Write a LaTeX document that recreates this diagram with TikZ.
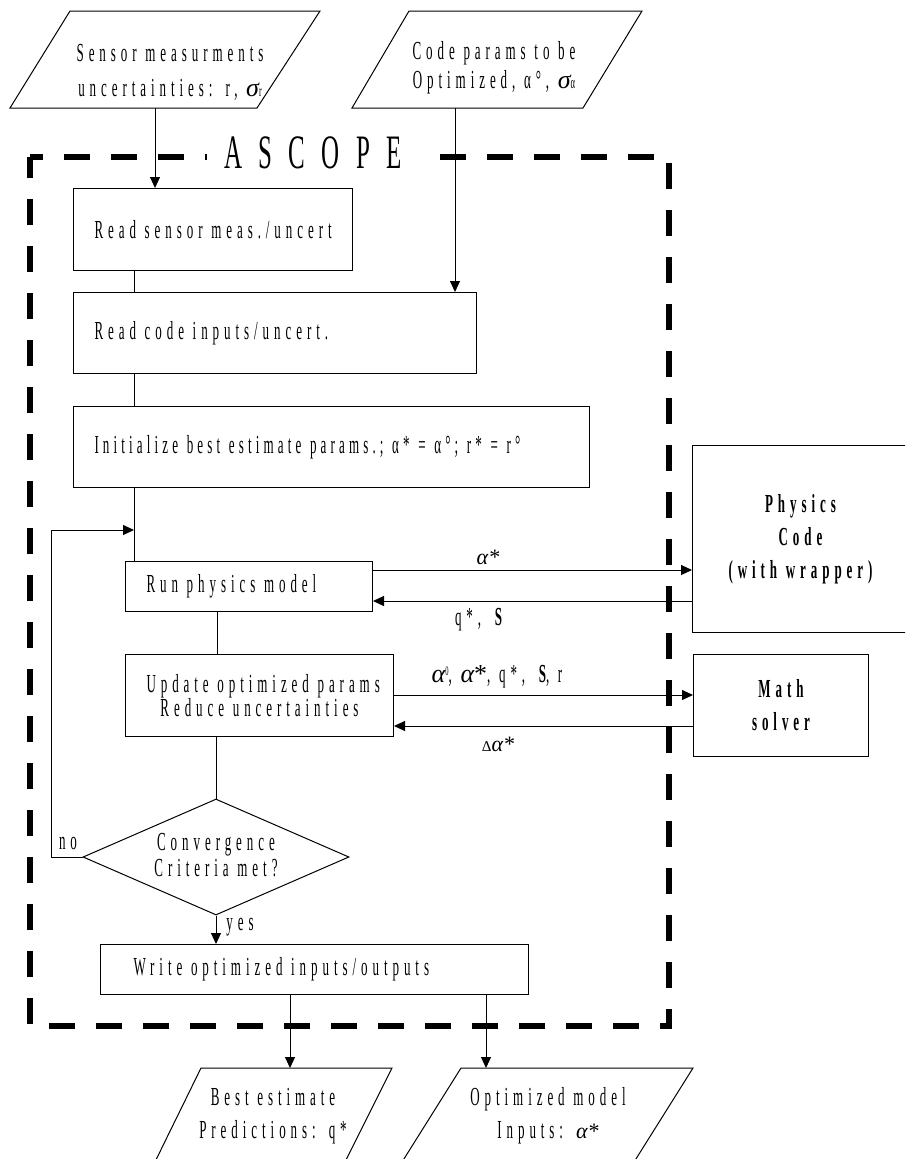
\documentclass[tikz,border=0pt]{standalone}
\usepackage{fontspec}
\setmainfont{Liberation Serif}
\newfontfamily\cf{Liberation Serif}[FakeStretch=0.5,LetterSpace=19]
\newfontfamily\cft{Liberation Serif}[FakeStretch=0.5,LetterSpace=16]
\newfontfamily\af{Liberation Serif}[FakeStretch=0.52,LetterSpace=34]
\newfontfamily\gf{Liberation Serif}
\newcommand\myal{{\gf\itshape α}}
\newcommand\cfsp{\spaceskip=5pt\xspaceskip=5pt\relax}
\usetikzlibrary{arrows.meta,shapes.geometric}
\begin{document}
\begin{tikzpicture}[x=1pt,y=-1pt,
  every node/.style={font=\cf\fontsize{26}{22}\selectfont\cfsp, inner sep=0pt},
  ln/.style={line width=1pt},
  arr/.style={line width=1pt,-{Triangle[length=11pt,width=10pt]}},
  box/.style={draw,line width=1pt,anchor=north west,inner xsep=21pt,inner ysep=0pt,align=left},
  bbox/.style={draw,line width=1pt,anchor=north west,align=center,font=\cf\bfseries\fontsize{26}{33}\selectfont\cfsp},
  txt/.style={align=center,text width=#1},
  lbl/.style={font=\gf\fontsize{22}{22}\selectfont},
  frame/.style={line width=6pt,dash pattern=on 26pt off 21pt,dash phase=13pt}]
\useasboundingbox (0,0) rectangle (905,1159);
\clip (0,0) rectangle (905,1159);
\fill[white] (0,0) rectangle (905,1159);

% ASCOPE frame
\draw[frame] (30,157) -- (669,157) -- (669,1026) -- (30,1026) -- cycle;
\node[fill=white,inner xsep=17pt,inner ysep=2pt,font=\af\fontsize{48}{48}\selectfont] (ascope) at (313,153) {ASCOPE\hspace{14pt}};

% input parallelograms
\draw[ln] (70,11) -- (320,11) -- (257,108) -- (10,108) -- cycle;
\node[txt=240pt,font=\cf\fontsize{26}{35}\selectfont\cfsp] (sens) at (170,72) {Sensor measurments\\uncertainties: r, {\gf\itshape σ}{\fontsize{16}{16}\selectfont r}};
\draw[ln] (409,11) -- (642,11) -- (583,108) -- (352,108) -- cycle;
\node[txt=240pt,font=\cf\fontsize{26}{29}\selectfont\cfsp] (code) at (494,68) {Code params to be\\Optimized, α°, {\gf\itshape σ}{\fontsize{17}{17}\selectfont α}};
\coordinate (sensOut) at (155,108);
\coordinate (codeOut) at (455,108);

% main boxes
\node[box,text width=237pt,minimum height=82pt] (b1) at (73,188) {\mbox{Read sensor meas./uncert}};
\node[box,text width=361pt,minimum height=81pt] (b2) at (73,292) {\mbox{Read code inputs/uncert.}};
\node[box,text width=474pt,minimum height=81pt,font=\cft\fontsize{26}{22}\selectfont\cfsp] (b3) at (73,406) {\mbox{Initialize best estimate params.; α* = α°; r* = r°}};
\node[box,text width=205pt,minimum height=50pt] (b4) at (125,561) {\mbox{Run physics model}};
\node[box,align=center,text width=226pt,minimum height=82pt] (b5) at (125,654) {Update optimized params\\Reduce uncertainties};
\node[draw,diamond,line width=1pt,minimum width=266pt,minimum height=116pt] (conv) at (216,857) {};
\node[txt=180pt,font=\cf\fontsize{26}{26}\selectfont\cfsp] (convt) at (216,855) {Convergence\\Criteria met?};
\node[box,inner xsep=33pt,text width=362pt,minimum height=50pt] (wr) at (100,944) {\mbox{Write optimized inputs/outputs}};

% external boxes
\node[bbox,text width=205pt,minimum width=216pt,minimum height=187pt] (phys) at (692,445) {Physics\\Code\\(with wrapper)};
\node[bbox,text width=165pt,minimum width=175pt,minimum height=102pt] (math) at (693,654) {Math\\solver};

% output parallelograms
\draw[ln] (201,1068) -- (392,1068) -- (341,1170) -- (151,1170) -- cycle;
\node[txt=200pt,font=\cf\fontsize{26}{33}\selectfont\cfsp] (best) at (273,1116) {Best estimate\\Predictions: q*};
\draw[ln] (461,1068) -- (693,1068) -- (629,1170) -- (397,1170) -- cycle;
\node[txt=220pt,font=\cf\fontsize{26}{33}\selectfont\cfsp] (opt) at (548,1116) {Optimized model\\Inputs: {\gf\itshape\fontsize{22}{22}\selectfont α*}};
\coordinate (p1) at (290,1068);
\coordinate (p2) at (486,1068);

% connectors
\draw[arr] (sensOut) -- (sensOut |- b1.north);
\draw[arr] (codeOut) -- (codeOut |- b2.north);
\coordinate (cx) at (134,0);
\draw[ln] (cx |- b1.south) -- (cx |- b2.north);
\draw[ln] (cx |- b2.south) -- (cx |- b3.north);
\draw[ln] (cx |- b3.south) -- (cx |- b4.north);
\coordinate (cy) at (217,0);
\draw[ln] (cy |- b4.south) -- (cy |- b5.north);
\draw[ln] (b5.south -| conv.north) -- (conv.north);
\coordinate (loopT) at (134,530);
\draw[arr] (conv.west) -- (51,857) |- (loopT);
\node (no) at (68,843) {no};
\draw[arr] (conv.south) -- (conv.south |- wr.north);
\node (yes) at (240,927) {yes};
\draw[arr] (p1 |- wr.south) -- (p1);
\draw[arr] (p2 |- wr.south) -- (p2);

% exchange with external codes
\coordinate (y1) at (0,570);
\coordinate (y2) at (0,601);
\coordinate (y3) at (0,695);
\coordinate (y4) at (0,726);
\draw[arr] (b4.east |- y1) -- (phys.west |- y1);
\draw[arr] (phys.west |- y2) -- (b4.east |- y2);
\draw[arr] (b5.east |- y3) -- (math.west |- y3);
\draw[arr] (math.west |- y4) -- (b5.east |- y4);
\node[lbl] (la1) at (488,557) {\itshape α*};
\node[txt=120pt] (la2) at (481,620) {q*, \textbf{S}};
\node[txt=220pt] (la3) at (497,677) {\myal{\fontsize{13}{13}\selectfont\raisebox{7pt}{0}}, \myal{\gf *}, q*, \textbf{S}, r};
\node[lbl] (la4) at (498,744) {{\fontsize{15}{15}\selectfont Δ}\itshape α*};
\end{tikzpicture}
\end{document}
